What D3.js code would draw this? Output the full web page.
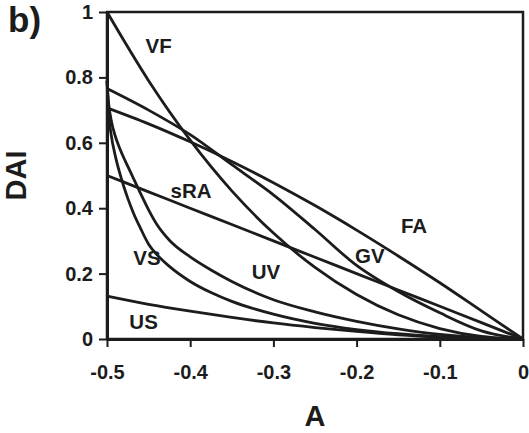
<!DOCTYPE html>
<html>
<head>
<meta charset="utf-8">
<script src="https://cdn.jsdelivr.net/npm/d3@7"></script>
<style>
body { margin: 0; background: #fff; }
svg text { font-family: "Liberation Sans", Arial, sans-serif; font-weight: bold; fill: #1c1c1c; }
.axis path, .axis line { stroke: #1c1c1c; }
</style>
</head>
<body>
<div id="chart-area"></div>
<script>
// ---- data ----
// common A grid (x values)
const aGrid = [-0.5, -0.45, -0.4, -0.35, -0.3, -0.25, -0.2, -0.15, -0.1, -0.05, 0];
// denser A grid for the two steep curves near A = -0.5
const aDense = [-0.5, -0.498, -0.495, -0.49, -0.485, -0.48, -0.475, -0.468, -0.46, -0.45,
                -0.44, -0.425, -0.4, -0.375, -0.35, -0.3, -0.25, -0.2, -0.15, -0.1, -0.05, 0];

const vfValues  = [1, 0.790, 0.608, 0.453, 0.324, 0.219, 0.136, 0.074, 0.032, 0.008, 0];
const faValues  = [0.707, 0.658, 0.603, 0.543, 0.478, 0.408, 0.333, 0.254, 0.172, 0.086, 0];
const gvValues  = [0.766, 0.70, 0.625, 0.533, 0.441, 0.335, 0.225, 0.145, 0.08, 0.025, 0];
const sraValues = [0.5, 0.45, 0.4, 0.35, 0.3, 0.25, 0.2, 0.15, 0.1, 0.05, 0];
const usValues  = [0.131, 0.106, 0.085, 0.066, 0.049, 0.035, 0.023, 0.013, 0.006, 0.0015, 0];
const vsValues  = [0.79, 0.69, 0.625, 0.56, 0.51, 0.468, 0.43, 0.384, 0.34, 0.29,
                   0.258, 0.222, 0.176, 0.142, 0.115, 0.076, 0.048, 0.029, 0.016, 0.007, 0.002, 0];
const uvValues  = [0.79, 0.72, 0.67, 0.62, 0.585, 0.555, 0.528, 0.49, 0.447, 0.395,
                   0.35, 0.302, 0.251, 0.211, 0.176, 0.12, 0.083, 0.054, 0.031, 0.014, 0.004, 0];

// curve labels (text and where they sit, in A / DAI units)
const labelNames = ["VF", "sRA", "FA", "GV", "VS", "UV", "US"];
const labelA     = [-0.438, -0.399, -0.131, -0.184, -0.452, -0.309, -0.456];
const labelDAI   = [0.874, 0.430, 0.323, 0.231, 0.226, 0.185, 0.032];

// ticks
const xTicks = [-0.5, -0.4, -0.3, -0.2, -0.1, 0];
const xTickLabels = ["-0.5", "-0.4", "-0.3", "-0.2", "-0.1", "0"];
const yTicks = [0, 0.2, 0.4, 0.6, 0.8, 1];
const yTickLabels = ["0", "0.2", "0.4", "0.6", "0.8", "1"];

// ---- chart ----
let margin = {left: 107, top: 12, right: 6, bottom: 94};
let width = 529 - margin.left - margin.right,
    height = 433 - margin.top - margin.bottom;

let svg = d3.select("#chart-area")
    .append("svg")
    .attr("width", 529)
    .attr("height", 433);

let group = svg.append("g")
    .attr("transform", "translate(" + margin.left + ", " + margin.top + ")");

let x = d3.scaleLinear().domain([-0.5, 0]).range([0, width]);
let y = d3.scaleLinear().domain([0, 1]).range([height, 0]);

// series table built from the arrays above
let series = [
    {a: aGrid, v: vfValues},
    {a: aGrid, v: faValues},
    {a: aGrid, v: gvValues},
    {a: aGrid, v: sraValues},
    {a: aGrid, v: usValues},
    {a: aDense, v: vsValues},
    {a: aDense, v: uvValues}
];

let line = d3.line()
    .x(d => x(d[0]))
    .y(d => y(d[1]))
    .curve(d3.curveMonotoneX);

group.selectAll("path.curve")
    .data(series)
    .enter()
    .append("path")
    .attr("class", "curve")
    .attr("d", s => line(s.a.map((a, i) => [a, s.v[i]])))
    .attr("fill", "none")
    .attr("stroke", "#1c1c1c")
    .attr("stroke-width", 2.8)
    .attr("stroke-linejoin", "round");

// frame (top and right)
group.append("rect")
    .attr("x", 0).attr("y", 0)
    .attr("width", width).attr("height", height)
    .attr("fill", "none")
    .attr("stroke", "#1c1c1c")
    .attr("stroke-width", 2.5);

// axes
let xAxis = group.append("g")
    .attr("class", "axis")
    .attr("transform", "translate(0, " + height + ")")
    .call(d3.axisBottom(x)
        .tickValues(xTicks)
        .tickFormat((d, i) => xTickLabels[i])
        .tickSizeInner(8).tickSizeOuter(0)
        .tickPadding(18));
xAxis.select(".domain").attr("stroke-width", 3);
xAxis.selectAll(".tick line").attr("stroke-width", 2);
xAxis.selectAll("text").attr("font-size", "20px");

let yAxis = group.append("g")
    .attr("class", "axis")
    .call(d3.axisLeft(y)
        .tickValues(yTicks)
        .tickFormat((d, i) => yTickLabels[i])
        .tickSizeInner(8).tickSizeOuter(0)
        .tickPadding(6));
yAxis.select(".domain").attr("stroke-width", 3);
yAxis.selectAll(".tick line").attr("stroke-width", 2);
yAxis.selectAll("text").attr("font-size", "20px");

// curve labels
group.selectAll("text.lbl")
    .data(labelNames)
    .enter()
    .append("text")
    .attr("class", "lbl")
    .attr("x", (d, i) => x(labelA[i]))
    .attr("y", (d, i) => y(labelDAI[i]))
    .attr("text-anchor", "middle")
    .attr("font-size", "20.5px")
    .text(d => d);

// axis titles
group.append("text")
    .attr("x", width / 2)
    .attr("y", 414)
    .attr("text-anchor", "middle")
    .attr("font-size", "29px")
    .text("A");

group.append("text")
    .attr("x", -height / 2)
    .attr("y", -81.5)
    .attr("text-anchor", "middle")
    .attr("font-size", "29px")
    .attr("transform", "rotate(-90)")
    .text("DAI");

// panel letter
svg.append("text")
    .attr("x", 8)
    .attr("y", 32)
    .attr("font-size", "35px")
    .text("b)");
</script>
</body>
</html>
